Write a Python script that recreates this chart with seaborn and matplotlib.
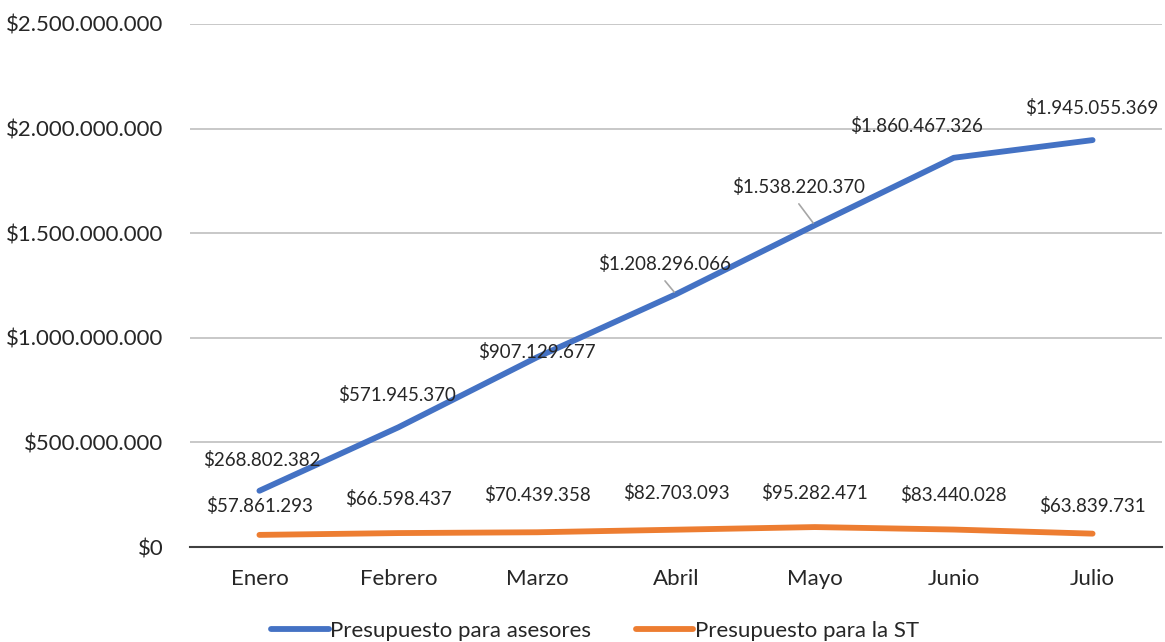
import matplotlib.pyplot as plt
import matplotlib.ticker as mticker
import numpy as np
import pandas as pd
import seaborn as sns

meses = ["Enero", "Febrero", "Marzo", "Abril", "Mayo", "Junio", "Julio"]
asesores = [268802382, 571945370, 907129677, 1208296066, 1538220370, 1860467326, 1945055369]
st = [57861293, 66598437, 70439358, 82703093, 95282471, 83440028, 63839731]
series = ["Presupuesto para asesores", "Presupuesto para la ST"]
colores = ["#4472C4", "#ED7D31"]

# label offsets in pixels (dx, dy) relative to the point
off_asesores = [(2, 31), (-1, 32), (0, 5), (-11, 30), (-16, 38), (-37, 32), (-1, 32)]
off_st = [(0, 29), (0, 34), (0, 37), (0, 37), (0, 34), (0, 35), (0, 28)]


def fmt(v):
    return "$" + f"{v:,.0f}".replace(",", ".")


def main():
    sns.set_style("white")
    plt.rcParams["font.family"] = ["Lato", "DejaVu Sans"]

    df = pd.DataFrame({
        "mes": meses * 2,
        "x": list(range(len(meses))) * 2,
        "valor": asesores + st,
        "serie": [series[0]] * len(meses) + [series[1]] * len(meses),
    })

    fig = plt.figure(figsize=(11.65, 6.42), dpi=100)
    ax = fig.add_axes([190 / 1165, 1 - 547 / 642, 972 / 1165, 523 / 642])

    sns.lineplot(df, x="x", y="valor", hue="serie", palette=colores,
                 lw=4.2, ax=ax, legend=False, solid_capstyle="round")

    for vals, offs in ((asesores, off_asesores), (st, off_st)):
        for i, (v, (dx, dy)) in enumerate(zip(vals, offs)):
            ax.annotate(fmt(v), (i, v), xytext=(dx * 0.72, dy * 0.72),
                        textcoords="offset points", ha="center", va="center",
                        fontsize=13.5, color="#262626")

    # leader lines for the labels placed away from the line
    for i in (3, 4):
        dx, dy = off_asesores[i]
        ax.annotate("", (i, asesores[i]), xytext=(dx * 0.72, dy * 0.72 - 12),
                    textcoords="offset points",
                    arrowprops=dict(arrowstyle="-", color="#A6A6A6", lw=1.2,
                                    shrinkA=0, shrinkB=2))

    ax.set_xlim(-0.5, 6.5)
    ax.set_ylim(0, 2.5e9)
    ax.set_xticks(range(len(meses)))
    ax.set_xticklabels(meses)
    ax.yaxis.set_major_locator(mticker.MultipleLocator(5e8))
    ax.yaxis.set_major_formatter(mticker.FuncFormatter(lambda v, p: fmt(v)))
    ax.tick_params(axis="both", length=0, labelsize=16, colors="#262626")
    ax.tick_params(axis="x", pad=16)
    ax.tick_params(axis="y", pad=19)
    ax.grid(axis="y", color="#BFBFBF", lw=1.2)
    for s in ("left", "right", "top"):
        ax.spines[s].set_visible(False)
    ax.spines["bottom"].set_color("#404040")
    ax.spines["bottom"].set_linewidth(1.5)
    ax.set_xlabel("")
    ax.set_ylabel("")

    handles = [plt.Line2D([], [], color=c, lw=4.2, solid_capstyle="round") for c in colores]
    fig.legend(handles, series, loc="center", bbox_to_anchor=(595 / 1165, 1 - 631 / 642),
               ncol=2, frameon=False, fontsize=16, handlelength=2.6,
               handletextpad=0.05, columnspacing=2.0)

    fig.savefig("out.png", dpi=100)


if __name__ == "__main__":
    main()
